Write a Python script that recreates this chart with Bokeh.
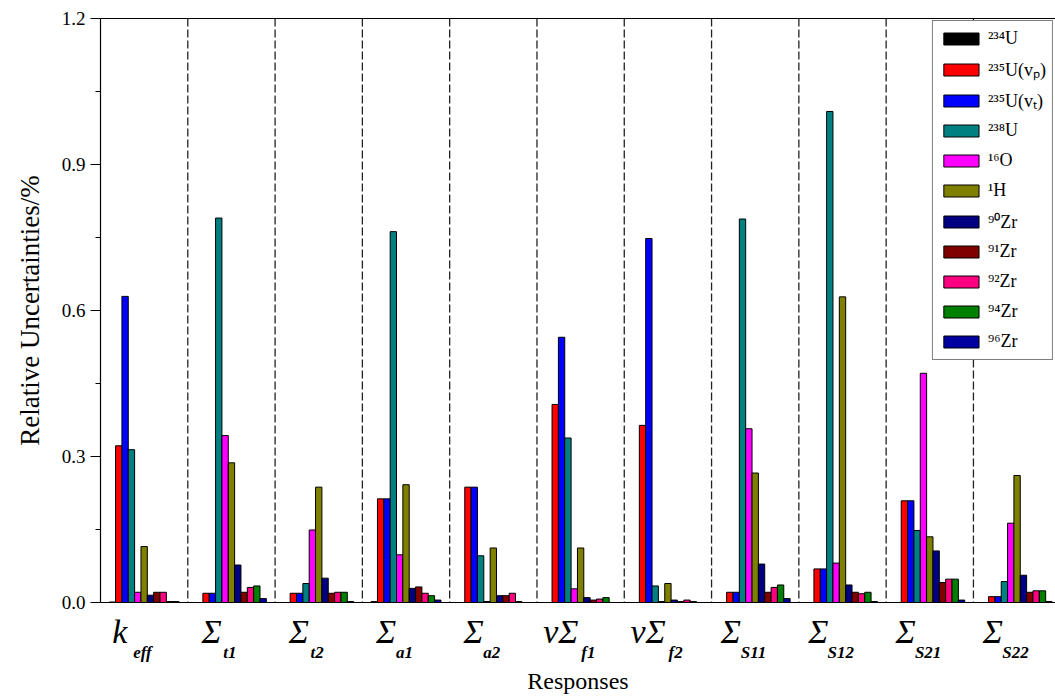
from bokeh.plotting import figure
from bokeh.models import (ColumnDataSource, Range1d, FixedTicker, LinearAxis, Span,
                          PrintfTickFormatter)
from bokeh.embed import file_html
from bokeh.resources import INLINE

# ---------------- data ----------------
responses = ["keff", "St1", "St2", "Sa1", "Sa2", "nSf1", "nSf2", "SS11", "SS12", "SS21", "SS22"]
label_main = ["k", "Σ", "Σ", "Σ", "Σ", "vΣ", "vΣ", "Σ", "Σ", "Σ", "Σ"]
label_sub = ["eff", "t1", "t2", "a1", "a2", "f1", "f2", "S11", "S12", "S21", "S22"]

isotopes = ["²³⁴U", "²³⁵U(vₚ)", "²³⁵U(vₜ)", "²³⁸U", "¹⁶O", "¹H",
            "⁹⁰Zr", "⁹¹Zr", "⁹²Zr", "⁹⁴Zr", "⁹⁶Zr"]

u234  = [0.001, 0.000, 0.000, 0.002, 0.000, 0.000, 0.000, 0.000, 0.000, 0.000, 0.000]
u235p = [0.322, 0.019, 0.019, 0.213, 0.237, 0.407, 0.364, 0.021, 0.069, 0.209, 0.012]
u235t = [0.629, 0.019, 0.019, 0.213, 0.237, 0.545, 0.748, 0.021, 0.069, 0.209, 0.012]
u238  = [0.314, 0.790, 0.039, 0.762, 0.096, 0.338, 0.034, 0.788, 1.009, 0.148, 0.043]
o16   = [0.021, 0.343, 0.149, 0.098, 0.002, 0.028, 0.002, 0.357, 0.081, 0.471, 0.163]
h1    = [0.115, 0.287, 0.237, 0.242, 0.112, 0.112, 0.039, 0.266, 0.628, 0.135, 0.261]
zr90  = [0.015, 0.077, 0.050, 0.029, 0.014, 0.010, 0.005, 0.079, 0.036, 0.106, 0.056]
zr91  = [0.021, 0.021, 0.019, 0.032, 0.014, 0.005, 0.002, 0.021, 0.021, 0.041, 0.021]
zr92  = [0.021, 0.031, 0.021, 0.019, 0.019, 0.007, 0.005, 0.031, 0.018, 0.048, 0.024]
zr94  = [0.002, 0.034, 0.021, 0.014, 0.002, 0.010, 0.002, 0.036, 0.021, 0.048, 0.024]
zr96  = [0.002, 0.008, 0.002, 0.005, 0.000, 0.000, 0.000, 0.008, 0.002, 0.005, 0.002]

series = [u234, u235p, u235t, u238, o16, h1, zr90, zr91, zr92, zr94, zr96]
colors = ["#000000", "#ff0000", "#0000ff", "#008080", "#ff00ff", "#808000",
          "#000080", "#800000", "#ff0080", "#008000", "#0000a0"]

yticks = [0.0, 0.3, 0.6, 0.9, 1.2]
yminor = [0.15, 0.45, 0.75, 1.05]

# ---------------- figure ----------------
n = len(responses)
FONT = "Liberation Serif"
XMAX = 10.94
FRAME_W = 955
PX = FRAME_W / XMAX            # pixels per group

p = figure(width=1055, height=696, x_range=Range1d(0, XMAX), y_range=Range1d(0, 1.2),
           output_backend="svg", toolbar_location=None,
           min_border_left=100, min_border_right=0, min_border_top=18, min_border_bottom=94)
p.outline_line_color = None
p.grid.visible = False
p.background_fill_color = "white"

group_span = 0.8
bw = group_span / len(series)
pad = (1 - group_span) / 2

for j, (name, vals, col) in enumerate(zip(isotopes, series, colors)):
    src = ColumnDataSource(dict(x=[i + pad + (j + 0.5) * bw for i in range(n)], top=vals))
    p.vbar(x="x", top="top", bottom=0, width=bw, source=src, fill_color=col,
           line_color="black", line_width=1, legend_label=name)

# group separators
for i in range(1, n):
    p.add_layout(Span(location=i, dimension="height", line_color="#222222",
                      line_dash="8 3", line_width=1.3))

# y axis
ya = p.yaxis[0]
ya.ticker = FixedTicker(ticks=yticks, minor_ticks=yminor)
ya.formatter = PrintfTickFormatter(format="%.1f")
ya.major_tick_in = 0
ya.major_tick_out = 10
ya.minor_tick_in = 0
ya.minor_tick_out = 5
ya.major_tick_line_color = "black"
ya.minor_tick_line_color = "black"
ya.major_label_text_font = FONT
ya.major_label_text_font_size = "19px"
ya.major_label_text_color = "black"
ya.major_label_standoff = 5
ya.axis_label = "Relative Uncertainties/%"
ya.axis_label_text_font = FONT
ya.axis_label_text_font_size = "27px"
ya.axis_label_text_font_style = "normal"
ya.axis_label_text_color = "black"
ya.axis_label_standoff = 14
ya.axis_line_color = "black"
ya.axis_line_width = 1.2

# category labels: symbol (axis A) + subscript (axis B), centred on each group
FS_MAIN, FS_SUB = 34, 17
SHIFT = 11  # px left of the group centre
sym_ticks, sub_ticks, sym_over, sub_over = [], [], {}, {}
for i, (m, s) in enumerate(zip(label_main, label_sub)):
    c = i + 0.5
    wm = len(m) * 0.55 * FS_MAIN
    ws = len(s) * 0.52 * FS_SUB
    left = c - (SHIFT + (wm + ws) / 2) / PX
    tm = round(left + (wm / 2) / PX, 4)
    ts = round(left + (wm + ws / 2) / PX, 4)
    sym_ticks.append(tm); sym_over[tm] = m
    sub_ticks.append(ts); sub_over[ts] = s

xa = p.xaxis[0]
xa.ticker = FixedTicker(ticks=sym_ticks)
xa.major_label_overrides = sym_over
xa.major_tick_in = 0
xa.major_tick_out = 0
xa.minor_tick_in = 0
xa.minor_tick_out = 0
xa.major_label_standoff = 10
xa.major_label_text_font = FONT
xa.major_label_text_font_style = "italic"
xa.major_label_text_font_size = f"{FS_MAIN}px"
xa.major_label_text_color = "black"
xa.axis_line_color = "black"
xa.axis_line_width = 1.2

xb = LinearAxis(ticker=FixedTicker(ticks=sub_ticks), major_label_overrides=sub_over,
                major_tick_in=0, major_tick_out=0, minor_tick_in=0, minor_tick_out=0,
                major_label_standoff=-10, major_label_text_font=FONT,
                major_label_text_font_style="bold italic",
                major_label_text_font_size=f"{FS_SUB}px", major_label_text_color="black",
                axis_line_color=None,
                axis_label="Responses", axis_label_text_font=FONT,
                axis_label_text_font_size="24px", axis_label_text_font_style="normal",
                axis_label_text_color="black", axis_label_standoff=3)
p.add_layout(xb, "below")

# top frame line
top = LinearAxis(ticker=FixedTicker(ticks=[]), major_tick_in=0, major_tick_out=0,
                 minor_tick_in=0, minor_tick_out=0, major_label_text_font_size="0px",
                 axis_line_color="black", axis_line_width=1.2)
p.add_layout(top, "above")

# legend
lg = p.legend[0]
lg.location = "top_right"
lg.margin = 2
lg.padding = 6
lg.spacing = 7
lg.glyph_width = 44
lg.glyph_height = 15
lg.label_height = 23
lg.label_standoff = 5
lg.label_text_font = FONT
lg.label_text_font_size = "18px"
lg.label_text_color = "black"
lg.border_line_color = "black"
lg.border_line_width = 1.5
lg.background_fill_alpha = 1.0

open("out.html", "w").write(file_html(p, INLINE))
